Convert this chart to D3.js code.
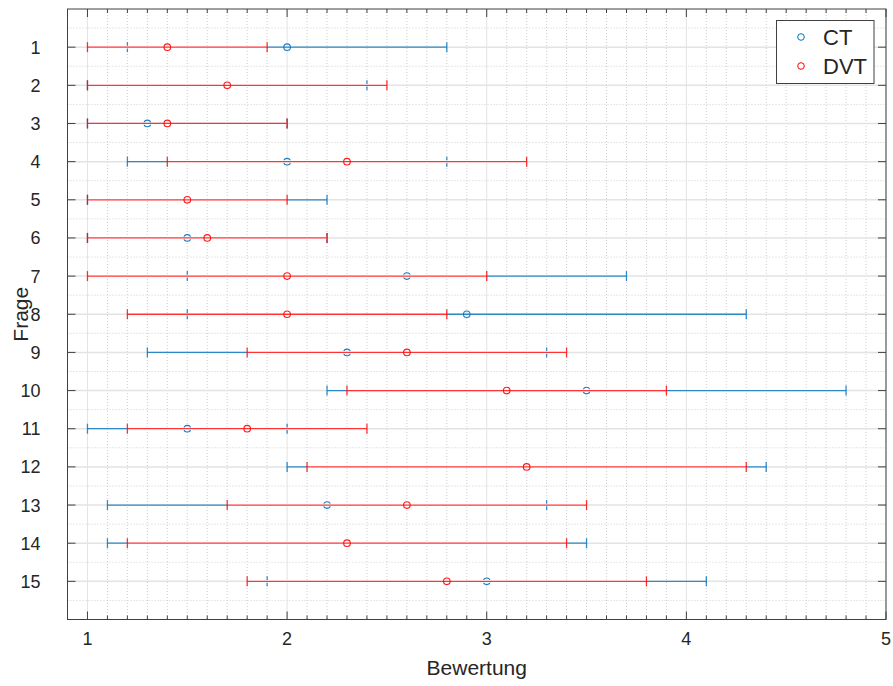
<!DOCTYPE html>
<html><head><meta charset="utf-8">
<script src="https://cdn.jsdelivr.net/npm/d3@7/dist/d3.min.js"></script>
<style>body{margin:0;background:#fff}svg{display:block}text{font-family:"Liberation Sans",Arial,Helvetica,sans-serif;fill:#262626}</style>
</head><body><svg id="chart" width="893" height="686"></svg>
<script>
const questions = [1,2,3,4,5,6,7,8,9,10,11,12,13,14,15];
const ctMean  = [2.0,1.7,1.3,2.0,1.5,1.5,2.6,2.9,2.3,3.5,1.5,3.2,2.2,2.3,3.0];
const ctLow   = [1.2,1.0,1.0,1.2,1.0,1.0,1.5,1.5,1.3,2.2,1.0,2.0,1.1,1.1,1.9];
const ctHigh  = [2.8,2.4,2.0,2.8,2.2,2.2,3.7,4.3,3.3,4.8,2.0,4.4,3.3,3.5,4.1];
const dvtMean = [1.4,1.7,1.4,2.3,1.5,1.6,2.0,2.0,2.6,3.1,1.8,3.2,2.6,2.3,2.8];
const dvtLow  = [1.0,1.0,1.0,1.4,1.0,1.0,1.0,1.2,1.8,2.3,1.2,2.1,1.7,1.2,1.8];
const dvtHigh = [1.9,2.5,2.0,3.2,2.0,2.2,3.0,2.8,3.4,3.9,2.4,4.3,3.5,3.4,3.8];
const xTicks = [1,2,3,4,5];
const seriesNames = ["CT","DVT"];
const seriesColors = ["#0072BD","#FF0000"];
const xLabel = "Bewertung", yLabel = "Frage";

const svg = d3.select("#chart");
const L = 67.5, R = 886, T = 9, B = 619.5;
const x = d3.scaleLinear().domain([0.9,5]).range([L,R]);
const y = d3.scaleLinear().domain([0,16]).range([T,B]);

// grid
const minorX = d3.range(9,51).map(d=>d/10).filter(d=>Math.abs(d-Math.round(d))>1e-6);
const minorY = d3.range(0,33).map(d=>d/2).filter(d=>d%1!==0);
const g = svg.append("g");
g.selectAll(".mx").data(minorX).join("line").attr("x1",d=>x(d)).attr("x2",d=>x(d)).attr("y1",T).attr("y2",B)
  .attr("stroke","#cfcfcf").attr("stroke-width",1).attr("stroke-dasharray","1,2");
g.selectAll(".my").data(minorY).join("line").attr("y1",d=>y(d)).attr("y2",d=>y(d)).attr("x1",L).attr("x2",R)
  .attr("stroke","#cfcfcf").attr("stroke-width",1).attr("stroke-dasharray","1,2");
g.selectAll(".gx").data(xTicks).join("line").attr("x1",d=>x(d)).attr("x2",d=>x(d)).attr("y1",T).attr("y2",B)
  .attr("stroke","#e3e3e3").attr("stroke-width",1);
g.selectAll(".gy").data(questions).join("line").attr("y1",d=>y(d)).attr("y2",d=>y(d)).attr("x1",L).attr("x2",R)
  .attr("stroke","#e3e3e3").attr("stroke-width",1.5);

// data
const series = [
  {mean:ctMean, low:ctLow, high:ctHigh, color:seriesColors[0]},
  {mean:dvtMean, low:dvtLow, high:dvtHigh, color:seriesColors[1]}
];
series.forEach((s,si)=>{
  const sg = svg.append("g").attr("fill","none");
  questions.forEach((q,i)=>{
    const yy = y(q);
    if (si > 0) {
      sg.append("line").attr("x1",x(s.low[i])).attr("x2",x(s.high[i])).attr("y1",yy).attr("y2",yy)
        .attr("stroke","#fff").attr("stroke-width",2.6);
      sg.append("circle").attr("cx",x(s.mean[i])).attr("cy",yy).attr("r",3.3).attr("stroke","#fff").attr("stroke-width",2.4);
    }
    const lg2 = sg.append("g").attr("stroke",s.color).attr("stroke-width",1.3).attr("stroke-opacity",0.8);
    lg2.append("line").attr("x1",x(s.low[i])).attr("x2",x(s.high[i])).attr("y1",yy).attr("y2",yy);
    lg2.append("line").attr("x1",x(s.low[i])).attr("x2",x(s.low[i])).attr("y1",yy-5).attr("y2",yy+5);
    lg2.append("line").attr("x1",x(s.high[i])).attr("x2",x(s.high[i])).attr("y1",yy-5).attr("y2",yy+5);
    lg2.append("circle").attr("cx",x(s.mean[i])).attr("cy",yy).attr("r",3.3).attr("stroke-width",1.1).attr("stroke-opacity",0.9);
  });
});

// axes box and ticks
const ax = svg.append("g").attr("stroke","#404040").attr("stroke-width",1);
ax.append("rect").attr("x",L).attr("y",T).attr("width",R-L).attr("height",B-T).attr("fill","none");
minorX.forEach(d=>{
  ax.append("line").attr("x1",x(d)).attr("x2",x(d)).attr("y1",B).attr("y2",B-4);
  ax.append("line").attr("x1",x(d)).attr("x2",x(d)).attr("y1",T).attr("y2",T+4);
});
xTicks.forEach(d=>{
  ax.append("line").attr("x1",x(d)).attr("x2",x(d)).attr("y1",B).attr("y2",B-8);
  ax.append("line").attr("x1",x(d)).attr("x2",x(d)).attr("y1",T).attr("y2",T+8);
});
questions.forEach(d=>{
  ax.append("line").attr("y1",y(d)).attr("y2",y(d)).attr("x1",L).attr("x2",L+8);
  ax.append("line").attr("y1",y(d)).attr("y2",y(d)).attr("x1",R).attr("x2",R-8);
});

// tick labels
svg.selectAll(".xl").data(xTicks).join("text").attr("x",d=>x(d)).attr("y",B+25).attr("text-anchor","middle")
  .attr("font-size",18).text(d=>d);
svg.selectAll(".yl").data(questions).join("text").attr("x",L-27).attr("y",d=>y(d)+6.5).attr("text-anchor","end")
  .attr("font-size",18).text(d=>d);

svg.append("text").attr("x",(L+R)/2).attr("y",675).attr("text-anchor","middle").attr("font-size",21).text(xLabel);
svg.append("text").attr("transform",`translate(28,${(T+B)/2}) rotate(-90)`).attr("text-anchor","middle").attr("font-size",21).text(yLabel);

// legend
const lg = svg.append("g");
lg.append("rect").attr("x",776.5).attr("y",20.5).attr("width",97.5).attr("height",63).attr("fill","#fff").attr("stroke","#404040");
seriesNames.forEach((n,i)=>{
  const cy = 37 + i*29;
  lg.append("circle").attr("cx",801).attr("cy",cy).attr("r",3.3).attr("fill","none").attr("stroke",seriesColors[i]).attr("stroke-width",1);
  lg.append("text").attr("x",823).attr("y",cy+8).attr("font-size",22).text(n);
});
</script></body></html>
